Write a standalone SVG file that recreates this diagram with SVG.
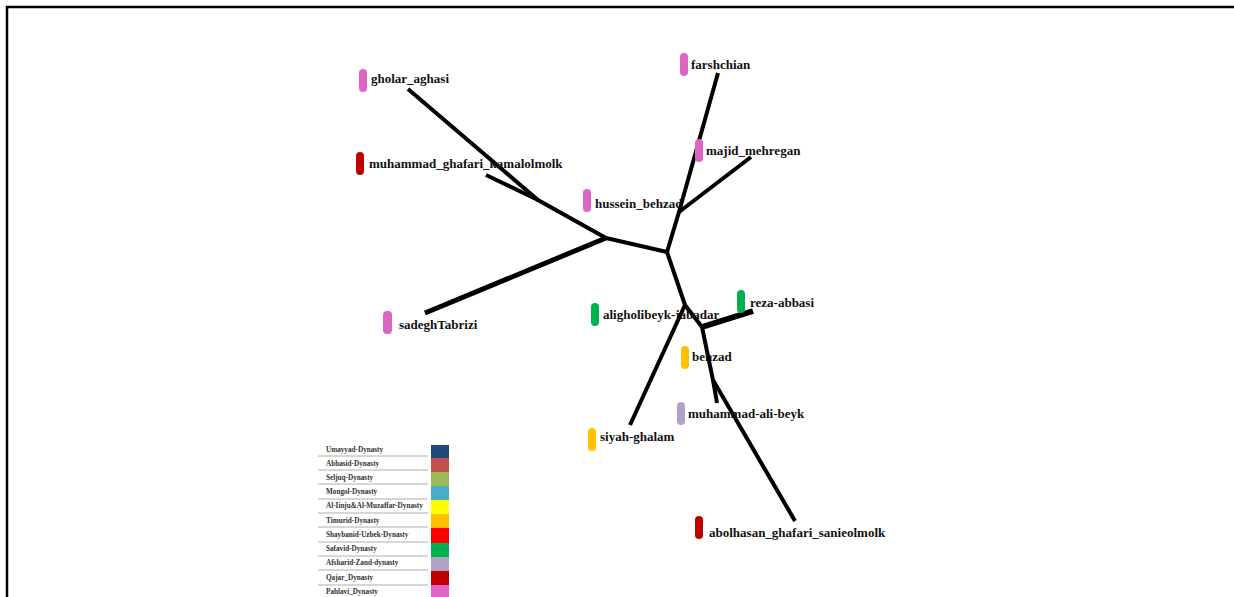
<svg xmlns="http://www.w3.org/2000/svg" width="1234" height="597" viewBox="0 0 1234 597">
<style>
.edge{stroke:#000;stroke-width:4;fill:none;stroke-linecap:butt;stroke-linejoin:miter}
.lbl{font-family:"Liberation Serif","Times New Roman",serif;font-weight:bold;font-size:13px;fill:#111}
.leg{font-family:"Liberation Serif","Times New Roman",serif;font-weight:bold;font-size:7.2px;fill:#333}
.sep{stroke:#999;stroke-width:0.8}
.pink{fill:#df65c4}.red{fill:#c00000}.green{fill:#00b050}.gold{fill:#ffc000}.lav{fill:#b3a2c7}
</style>
<rect width="1234" height="597" fill="#fff"/>
<path d="M7,597 V7 H1234" stroke="#000" stroke-width="2.5" fill="none"/>
<g id="connectors">
<path class="edge" d="M408,89 L538,200 L606,238"/>
<path class="edge" d="M486,175 L538,200"/>
<path class="edge" d="M425,313 L606,238" style="stroke-width:5"/>
<path class="edge" d="M606,238 L667,252"/>
<path class="edge" d="M667,252 L679,212 L718,73"/>
<path class="edge" d="M679,212 L751,157"/>
<path class="edge" d="M667,252 L685,305"/>
<path class="edge" d="M685,305 L630,425"/>
<path class="edge" d="M685,305 L702,327"/>
<path class="edge" d="M702,327 L753,311" style="stroke-width:6"/>
<path class="edge" d="M702,327 L713,380 L717,403"/>
<path class="edge" d="M713,380 L795,521"/>
</g>
<g id="gholar_aghasi"><rect class="pink" x="359" y="69" width="8" height="23" rx="4"/><text class="lbl" x="371" y="83">gholar_aghasi</text></g>
<g id="muhammad_ghafari_kamalolmolk"><rect class="red" x="356" y="152" width="8" height="23" rx="4"/><text class="lbl" x="369" y="168">muhammad_ghafari_kamalolmolk</text></g>
<g id="farshchian"><rect class="pink" x="680" y="53" width="8" height="23" rx="4"/><text class="lbl" x="691" y="69">farshchian</text></g>
<g id="majid_mehregan"><rect class="pink" x="695" y="139" width="8" height="23" rx="4"/><text class="lbl" x="706" y="155">majid_mehregan</text></g>
<g id="hussein_behzad"><rect class="pink" x="583" y="189" width="8" height="23" rx="4"/><text class="lbl" x="595" y="208">hussein_behzad</text></g>
<g id="sadeghTabrizi"><rect class="pink" x="383" y="311" width="9" height="23" rx="4"/><text class="lbl" x="399" y="329">sadeghTabrizi</text></g>
<g id="aligholibeyk-jabadar"><rect class="green" x="591" y="303" width="8" height="23" rx="4"/><text class="lbl" x="603" y="319">aligholibeyk-jabadar</text></g>
<g id="reza-abbasi"><rect class="green" x="737" y="290" width="8" height="23" rx="4"/><text class="lbl" x="750" y="307">reza-abbasi</text></g>
<g id="behzad"><rect class="gold" x="681" y="346" width="8" height="23" rx="4"/><text class="lbl" x="692" y="361">behzad</text></g>
<g id="muhammad-ali-beyk"><rect class="lav" x="677" y="402" width="8" height="23" rx="4"/><text class="lbl" x="688" y="418">muhammad-ali-beyk</text></g>
<g id="siyah-ghalam"><rect class="gold" x="588" y="428" width="8" height="23" rx="4"/><text class="lbl" x="600" y="441">siyah-ghalam</text></g>
<g id="abolhasan_ghafari_sanieolmolk"><rect class="red" x="695" y="516" width="8" height="23" rx="4"/><text class="lbl" x="709" y="537">abolhasan_ghafari_sanieolmolk</text></g>
<g id="legend">
<rect x="431" y="445" width="18" height="13" fill="#1f497d"/>
<rect x="431" y="458" width="18" height="14" fill="#c0504d"/>
<rect x="431" y="472" width="18" height="14" fill="#9bbb59"/>
<rect x="431" y="486" width="18" height="14" fill="#4bacc6"/>
<rect x="431" y="500" width="18" height="14" fill="#ffff00"/>
<rect x="431" y="514" width="18" height="14" fill="#ffc000"/>
<rect x="431" y="528" width="18" height="15" fill="#ff0000"/>
<rect x="431" y="543" width="18" height="14" fill="#00b050"/>
<rect x="431" y="557" width="18" height="14" fill="#b3a2c7"/>
<rect x="431" y="571" width="18" height="14" fill="#c00000"/>
<rect x="431" y="585" width="18" height="12" fill="#e066c8"/>
<line class="sep" x1="318" y1="456" x2="428" y2="456"/>
<line class="sep" x1="318" y1="470" x2="428" y2="470"/>
<line class="sep" x1="318" y1="484" x2="428" y2="484"/>
<line class="sep" x1="318" y1="499" x2="428" y2="499"/>
<line class="sep" x1="318" y1="513" x2="428" y2="513"/>
<line class="sep" x1="318" y1="527" x2="428" y2="527"/>
<line class="sep" x1="318" y1="542" x2="428" y2="542"/>
<line class="sep" x1="318" y1="556" x2="428" y2="556"/>
<line class="sep" x1="318" y1="570" x2="428" y2="570"/>
<line class="sep" x1="318" y1="585" x2="428" y2="585"/>
<text class="leg" x="326" y="452">Umayyad-Dynasty</text>
<text class="leg" x="326" y="466">Abbasid-Dynasty</text>
<text class="leg" x="326" y="480">Seljuq-Dynasty</text>
<text class="leg" x="326" y="494">Mongol-Dynasty</text>
<text class="leg" x="326" y="508">Al-Iinju&amp;Al-Muzaffar-Dynasty</text>
<text class="leg" x="326" y="523">Timurid-Dynasty</text>
<text class="leg" x="326" y="537">Shaybanid-Uzbek-Dynasty</text>
<text class="leg" x="326" y="551">Safavid-Dynasty</text>
<text class="leg" x="326" y="565">Afsharid-Zand-dynasty</text>
<text class="leg" x="326" y="580">Qajar_Dynasty</text>
<text class="leg" x="326" y="594">Pahlavi_Dynasty</text>
</g>
</svg>
